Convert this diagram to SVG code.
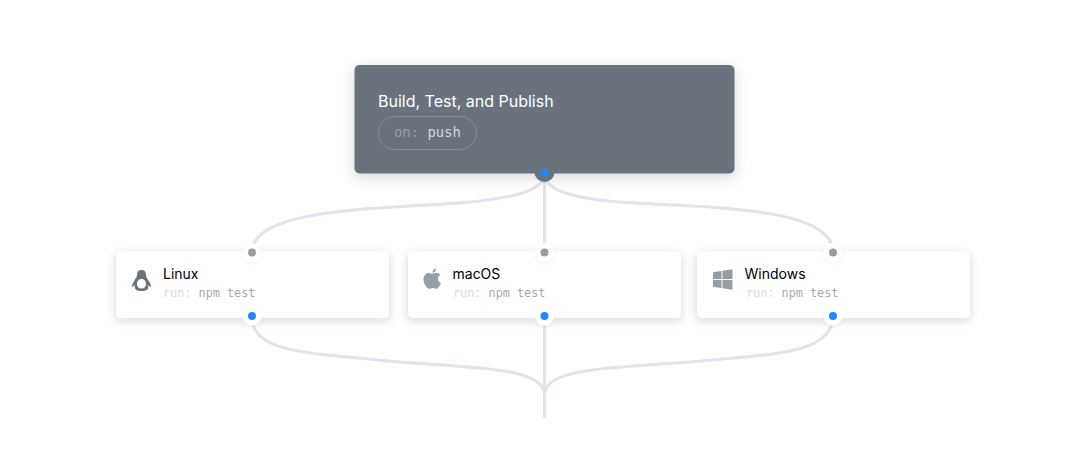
<svg xmlns="http://www.w3.org/2000/svg" width="1066" height="468" viewBox="0 0 1066 468">
<defs>
<filter id="sh" x="-10%" y="-30%" width="120%" height="170%"><feDropShadow dx="0" dy="3" stdDeviation="5" flood-color="#1b1f23" flood-opacity="0.17"/></filter>
<filter id="sh2" x="-10%" y="-30%" width="120%" height="170%"><feDropShadow dx="0" dy="4" stdDeviation="7" flood-color="#1b1f23" flood-opacity="0.16"/></filter>
<filter id="ps" x="-50%" y="-50%" width="200%" height="200%"><feDropShadow dx="0" dy="1" stdDeviation="2" flood-color="#1b1f23" flood-opacity="0.05"/></filter>
</defs>
<style>
.wire{fill:none;stroke:#e1e4e8;stroke-width:3}
.card{fill:#fff;filter:url(#sh)}
.t{font-family:Inter,"Liberation Sans",sans-serif;font-size:14px;fill:#000}
.m{font-family:"DejaVu Sans Mono","Liberation Mono",monospace;font-size:11.8px;fill:#a3aab2}
.k{fill:#d8dbdf}
.port{fill:#fff;filter:url(#ps)}
.in{fill:#959da5}
.out{fill:#2188ff}
.ic{fill:#959da5}
</style>
<rect width="1066" height="468" fill="#fff"/>
<g id="connectors">
<path class="wire" d="M544.500 173C544.500 192 510 198 470 202C400 209 252 205 252 252"/>
<path class="wire" d="M544.500 173V252"/>
<path class="wire" d="M544.500 173C544.500 190 570 198 620 202C700 208 833 205 833 252"/>
<path class="wire" d="M252 316C252 355 310 352 400 362C480 368 544.500 368 544.500 395"/>
<path class="wire" d="M544.500 316V418"/>
<path class="wire" d="M833 316C833 355 770 354 690 362C610 368 544.500 368 544.500 395"/>
</g>
<g id="workflow">
<rect x="354.500" y="65" width="380" height="108.500" rx="5" fill="#6a737d" filter="url(#sh2)"/>
<text x="378" y="106.500" font-family="Inter,'Liberation Sans',sans-serif" font-size="16" fill="#fff">Build, Test, and Publish</text>
<rect x="378.500" y="116.500" width="98" height="33" rx="16.500" fill="none" stroke="#868e98"/>
<text x="394" y="137" font-family="'DejaVu Sans Mono','Liberation Mono',monospace" font-size="13.900" fill="#959da5">on:</text>
<text x="427.500" y="137" font-family="'DejaVu Sans Mono','Liberation Mono',monospace" font-size="13.900" fill="#d1d5da">push</text>
<circle cx="544.500" cy="172" r="10" fill="#6a737d"/>
<circle cx="544.500" cy="173" r="4" class="out"/>
</g>
<g id="linux">
<rect x="116" y="251" width="273" height="67" rx="5" class="card"/>
<circle cx="252" cy="252.500" r="9.500" class="port"/><circle cx="252" cy="252.500" r="4" class="in"/>
<circle cx="252" cy="316" r="9.500" class="port"/><circle cx="252" cy="316" r="4" class="out"/>
<path fill="#6a737d" fill-rule="evenodd" d="M141.500 270C138.500 270 137 272 137 274.500C137 277 136 278 134.500 280.500C133 283 131.500 285.500 132 287C133.500 286.500 134 285.500 134.500 285C134.800 287 135 288 135 288.500C136 290.500 138.500 291 141.500 291C144.500 291 147 290.500 148 288.500C148 288 148.200 287 148.500 285C149 285.500 149.500 286.500 151 287C151.500 285.500 150 283 148.500 280.500C147 278 146 277 146 274.500C146 272 144.500 270 141.500 270ZM141.500 279C144.500 279 146 281.500 146 284C146 286.500 144.500 288.500 141.500 288.500C138.500 288.500 137 286.500 137 284C137 281.500 138.500 279 141.500 279Z"/>
<text x="163" y="278.500" class="t">Linux</text>
<text x="163" y="297" class="m"><tspan class="k">run:</tspan> npm test</text>
</g>
<g id="macos">
<rect x="408" y="251" width="273" height="67" rx="5" class="card"/>
<circle cx="544.500" cy="252.500" r="9.500" class="port"/><circle cx="544.500" cy="252.500" r="4" class="in"/>
<circle cx="544.500" cy="316" r="9.500" class="port"/><circle cx="544.500" cy="316" r="4" class="out"/>
<path class="ic" d="M436 268.500C436.200 270.600 434.500 272.700 432.500 272.700C432.200 270.800 434 268.700 436 268.500ZM432.300 273.700C433.500 273.700 434.500 272.800 436 272.800C437.800 272.800 439.300 273.700 440.200 275C438.500 276 437.700 277.300 437.800 279C437.900 281 439.100 282.300 440.900 283C440.300 285.300 437.900 288.800 436.200 288.800C435 288.800 434.300 288 432.800 288C431.300 288 430.500 288.800 429.400 288.800C427.200 288.800 423.500 284 423.500 279.500C423.500 275.500 426 272.900 428.700 272.900C430.200 272.900 431.200 273.700 432.300 273.700Z"/>
<text x="452.500" y="278.500" class="t">macOS</text>
<text x="453" y="297" class="m"><tspan class="k">run:</tspan> npm test</text>
</g>
<g id="windows">
<rect x="697" y="251" width="273" height="67" rx="5" class="card"/>
<circle cx="833" cy="252.500" r="9.500" class="port"/><circle cx="833" cy="252.500" r="4" class="in"/>
<circle cx="833" cy="316" r="9.500" class="port"/><circle cx="833" cy="316" r="4" class="out"/>
<path class="ic" d="M713 272.300L721.500 271V279H713ZM722.500 270.800L732.500 269.300V279H722.500ZM713 280H721.500V288L713 286.700ZM722.500 280H732.500V289.700L722.500 288.200Z"/>
<text x="744.500" y="278.500" class="t">Windows</text>
<text x="746" y="297" class="m"><tspan class="k">run:</tspan> npm test</text>
</g>
</svg>
